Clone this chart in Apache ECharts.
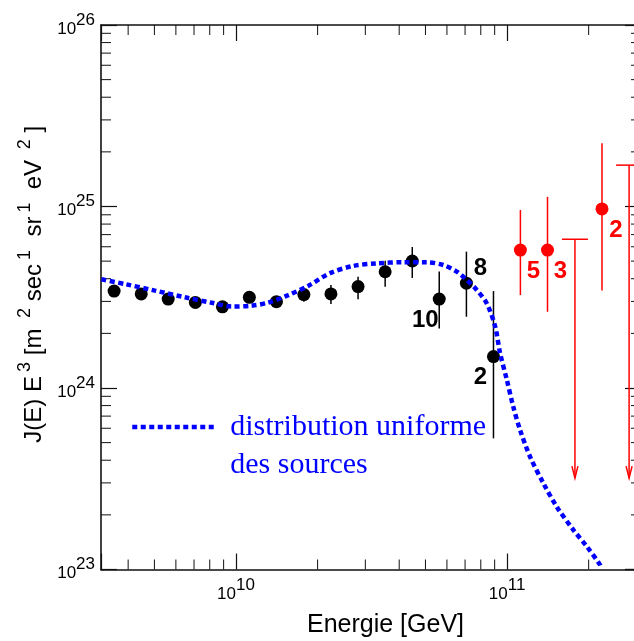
<!DOCTYPE html>
<html lang="fr">
<head>
<meta charset="UTF-8">
<title>J(E) E3 - distribution uniforme des sources</title>
<style>
  html, body { margin: 0; padding: 0; background: #fff; }
  #chart { width: 634px; height: 641px; }
</style>
<script src="https://cdn.jsdelivr.net/npm/echarts@6.0.0/dist/echarts.min.js"></script>
</head>
<body>
<div id="chart"></div>
<script>
// bornes des axes
var xMin = 3.176e9, xMax = 3.12e11;
var yMin = 1e23, yMax = 1e26;

// points noirs (energie en GeV, flux) et barres d'erreur
var blackE = [3.55e9, 4.47e9, 5.62e9, 7.08e9, 8.91e9, 1.12e10, 1.41e10, 1.78e10,
              2.24e10, 2.82e10, 3.55e10, 4.47e10, 5.62e10, 7.08e10, 8.91e10];
var blackJ = [3.42e24, 3.30e24, 3.09e24, 2.96e24, 2.80e24, 3.16e24, 2.99e24, 3.27e24,
              3.30e24, 3.62e24, 4.37e24, 5.01e24, 3.09e24, 3.78e24, 1.49e24];
var blackLo = [3.25e24, 3.14e24, 2.94e24, 2.81e24, 2.66e24, 3.00e24, 2.84e24, 2.99e24,
               2.90e24, 3.08e24, 3.61e24, 4.04e24, 2.13e24, 2.47e24, 5.28e23];
var blackHi = [3.60e24, 3.47e24, 3.25e24, 3.12e24, 2.95e24, 3.33e24, 3.15e24, 3.57e24,
               3.69e24, 4.10e24, 5.02e24, 5.98e24, 4.38e24, 5.64e24, 3.42e24];
var blackNoteIdx = [12, 13, 14];
var blackNoteText = ['10', '8', '2'];

// points rouges
var redE = [1.12e11, 1.41e11, 2.24e11];
var redJ = [5.75e24, 5.75e24, 9.70e24];
var redLo = [3.25e24, 2.63e24, 3.44e24];
var redHi = [9.57e24, 1.13e25, 2.23e25];
var redNoteText = ['5', '3', '2'];

// limites superieures (fleches)
var limE = [1.78e11, 2.82e11];
var limJ = [6.6e24, 1.69e25];
var limTip = [3.19e23, 3.19e23];

// courbe : distribution uniforme des sources
var curveE = [3.19e9, 3.89e9, 5.02e9, 6.49e9, 8.13e9, 9.64e9, 1.14e10, 1.31e10,
              1.56e10, 1.85e10, 2.22e10, 2.70e10, 3.30e10, 4.13e10, 5.06e10, 5.81e10,
              6.52e10, 7.10e10, 7.73e10, 8.41e10, 9.04e10, 9.42e10, 9.98e10, 1.054e11,
              1.117e11, 1.216e11, 1.361e11, 1.524e11, 1.758e11, 1.968e11, 2.203e11, 2.223e11];
var curveJ = [3.97e24, 3.74e24, 3.44e24, 3.16e24, 2.95e24, 2.81e24, 2.84e24, 2.95e24,
              3.25e24, 3.66e24, 4.29e24, 4.70e24, 4.86e24, 4.93e24, 4.93e24, 4.76e24,
              4.38e24, 3.94e24, 3.47e24, 2.93e24, 2.18e24, 1.56e24, 1.11e24, 7.89e23,
              5.87e23, 4.18e23, 2.99e23, 2.22e23, 1.65e23, 1.34e23, 1.06e23, 1.007e23];

// graduations secondaires
var xMinorTicks = [4e9, 5e9, 6e9, 7e9, 8e9, 9e9,
                   2e10, 3e10, 4e10, 5e10, 6e10, 7e10, 8e10, 9e10,
                   2e11, 3e11];
var yMinorTicks = [2e23, 3e23, 4e23, 5e23, 6e23, 7e23, 8e23, 9e23,
                   2e24, 3e24, 4e24, 5e24, 6e24, 7e24, 8e24, 9e24,
                   2e25, 3e25, 4e25, 5e25, 6e25, 7e25, 8e25, 9e25];

var sans = 'Liberation Sans, Arial, Helvetica, sans-serif';
var serif = 'Liberation Serif, Times New Roman, serif';
var blue = '#0000ff';
var red = '#ff0000';
var blackNoteOffset = [[-14, 21], [14, -15], [-13, 21]];
var redNoteOffset = [[13, 21], [13, 21], [14, 21]];

// etiquettes 10^n
function powLabel(v) {
    var lg = Math.log10(v);
    var e = Math.round(lg);
    if (Math.abs(lg - e) > 1e-6) {
        return '';
    }
    return '{b|10}{s|' + e + '}';
}

var powRich = {
    b: { fontSize: 17, lineHeight: 17, fontFamily: sans, color: '#000', padding: [8, 0, 0, 0] },
    s: { fontSize: 17, lineHeight: 17, fontFamily: sans, color: '#000', padding: [0, 0, 10, 0] }
};

function axisBase(extra) {
    var a = {
        type: 'log',
        logBase: 10,
        axisLine: { show: true, lineStyle: { color: '#111', width: 1.6 } },
        axisTick: { show: true, inside: true, length: 16, lineStyle: { color: '#111', width: 1.2 } },
        splitLine: { show: false },
        minorTick: { show: false }
    };
    for (var k in extra) {
        a[k] = extra[k];
    }
    return a;
}

// barres d'erreur verticales
function errorBar(color) {
    return function (params, api) {
        var p1 = api.coord([api.value(0), api.value(1)]);
        var p2 = api.coord([api.value(0), api.value(2)]);
        return {
            type: 'line',
            shape: { x1: p1[0], y1: p1[1], x2: p2[0], y2: p2[1] },
            style: { stroke: color, lineWidth: 1.5 }
        };
    };
}

var blackData = blackE.map(function (e, i) { return [e, blackJ[i]]; });
blackNoteIdx.forEach(function (idx, k) {
    blackData[idx] = {
        value: blackData[idx],
        label: { show: true, formatter: blackNoteText[k], offset: blackNoteOffset[k] }
    };
});

var redData = redE.map(function (e, i) {
    return {
        value: [e, redJ[i]],
        label: { show: true, formatter: redNoteText[i], offset: redNoteOffset[i] }
    };
});

var option = {
    animation: false,
    backgroundColor: '#fff',
    grid: { left: 101, right: -7, top: 25, bottom: 71.5, containLabel: false, outerBoundsMode: 'none' },
    xAxis: [
        axisBase({
            min: xMin, max: xMax, position: 'bottom',
            axisLabel: { show: true, margin: 12, formatter: powLabel, rich: powRich },
            name: 'Energie [GeV]',
            nameLocation: 'middle',
            nameGap: 43,
            nameTextStyle: { fontSize: 25, fontFamily: sans, color: '#000', padding: [0, 0, 0, 29] }
        }),
        axisBase({
            min: xMin, max: xMax, position: 'top',
            axisLabel: { show: false }
        })
    ],
    yAxis: [
        axisBase({
            min: yMin, max: yMax, position: 'left',
            axisLabel: { show: true, margin: 6, formatter: powLabel, rich: powRich },
            name: '{m|J(E) E}{s|3}{m| [m }{s|2}{m| sec}{s|1}{m|  sr}{s|1}{m|  eV }{s|2}{m| ]}',
            nameLocation: 'middle',
            nameGap: 50,
            nameTextStyle: {
                padding: [0, 0, 0, 26],
                rich: {
                    m: { fontSize: 24, lineHeight: 24, fontFamily: sans, color: '#000', padding: [6, 0, 0, 0] },
                    s: { fontSize: 18, lineHeight: 18, fontFamily: sans, color: '#000', padding: [0, 0, 12, 4] }
                }
            }
        }),
        axisBase({
            min: yMin, max: yMax, position: 'right',
            axisLabel: { show: false }
        })
    ],
    legend: {
        show: true,
        left: 130,
        top: 370,
        padding: 0,
        itemWidth: 82,
        itemHeight: 14,
        data: ['distribution uniforme'],
        formatter: function (name) { return '\n' + name + '\ndes sources'; },
        itemStyle: { opacity: 0 },
        lineStyle: { color: blue, width: 4.5, type: [5, 3.5], opacity: 1 },
        textStyle: {
            color: blue, fontFamily: serif, fontSize: 30, lineHeight: 38,
            padding: [0, 0, 0, 11]
        }
    },
    series: [
        {
            // graduations secondaires de x (bas et haut)
            type: 'custom',
            silent: true,
            data: xMinorTicks.filter(function (v) { return v <= xMax; }).map(function (v) { return [v, yMin]; }),
            encode: { x: 0, y: 1 },
            renderItem: function (params, api) {
                var b = api.coord([api.value(0), yMin]);
                var t = api.coord([api.value(0), yMax]);
                var st = { stroke: '#111', lineWidth: 1 };
                return {
                    type: 'group',
                    children: [
                        { type: 'line', shape: { x1: b[0], y1: b[1], x2: b[0], y2: b[1] - 10 }, style: st },
                        { type: 'line', shape: { x1: t[0], y1: t[1], x2: t[0], y2: t[1] + 10 }, style: st }
                    ]
                };
            }
        },
        {
            // graduations secondaires de y (gauche et droite)
            type: 'custom',
            silent: true,
            data: yMinorTicks.map(function (v) { return [xMin, v]; }),
            encode: { x: 0, y: 1 },
            renderItem: function (params, api) {
                var l = api.coord([xMin, api.value(1)]);
                var r = api.coord([xMax, api.value(1)]);
                var st = { stroke: '#111', lineWidth: 1 };
                return {
                    type: 'group',
                    children: [
                        { type: 'line', shape: { x1: l[0], y1: l[1], x2: l[0] + 10, y2: l[1] }, style: st },
                        { type: 'line', shape: { x1: r[0], y1: r[1], x2: r[0] - 10, y2: r[1] }, style: st }
                    ]
                };
            }
        },
        {
            type: 'custom',
            silent: true,
            data: blackE.map(function (e, i) { return [e, blackLo[i], blackHi[i]]; }),
            encode: { x: 0, y: [1, 2] },
            renderItem: errorBar('#000')
        },
        {
            type: 'custom',
            silent: true,
            data: redE.map(function (e, i) { return [e, redLo[i], redHi[i]]; }),
            encode: { x: 0, y: [1, 2] },
            renderItem: errorBar(red)
        },
        {
            // limites superieures
            type: 'custom',
            silent: true,
            data: limE.map(function (e, i) { return [e, limJ[i], limTip[i]]; }),
            encode: { x: 0, y: [1, 2] },
            renderItem: function (params, api) {
                var top = api.coord([api.value(0), api.value(1)]);
                var tip = api.coord([api.value(0), api.value(2)]);
                var st = { stroke: red, lineWidth: 1.5, fill: null };
                return {
                    type: 'group',
                    children: [
                        { type: 'line', shape: { x1: top[0] - 13, y1: top[1], x2: top[0] + 13, y2: top[1] }, style: st },
                        { type: 'line', shape: { x1: top[0], y1: top[1], x2: tip[0], y2: tip[1] }, style: st },
                        { type: 'polyline', shape: { points: [[tip[0] - 3, tip[1] - 12], [tip[0], tip[1]], [tip[0] + 3, tip[1] - 12]] }, style: st }
                    ]
                };
            }
        },
        {
            type: 'scatter',
            data: blackData,
            symbol: 'circle',
            symbolSize: 13,
            itemStyle: { color: '#000', opacity: 1 },
            label: {
                show: false, position: 'inside', color: '#000',
                fontSize: 24, fontWeight: 'bold', fontFamily: sans
            },
            z: 3
        },
        {
            type: 'scatter',
            data: redData,
            symbol: 'circle',
            symbolSize: 13,
            itemStyle: { color: red, opacity: 1 },
            label: {
                show: false, position: 'inside', color: red,
                fontSize: 24, fontWeight: 'bold', fontFamily: sans
            },
            z: 3
        },
        {
            name: 'distribution uniforme',
            type: 'line',
            data: curveE.map(function (e, i) { return [e, curveJ[i]]; }),
            symbol: 'none',
            smooth: 0.3,
            itemStyle: { color: blue },
            lineStyle: { color: blue, width: 4.5, type: [5, 3.5] },
            z: 5
        }
    ]
};

var chart = echarts.init(document.getElementById('chart'));
chart.setOption(option);
</script>
</body>
</html>
